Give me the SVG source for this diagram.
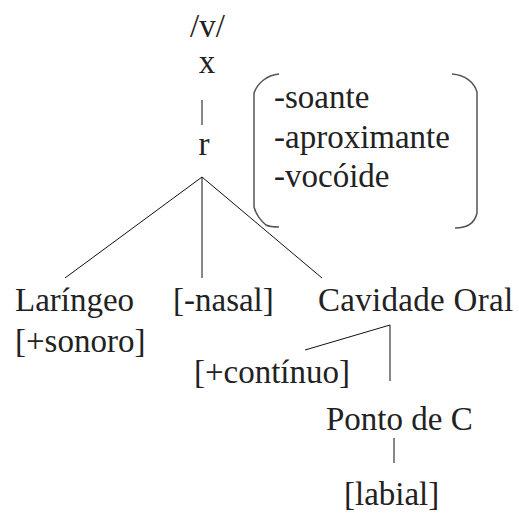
<svg xmlns="http://www.w3.org/2000/svg" width="519" height="514" viewBox="0 0 519 514">
<style>
text{font-family:"Liberation Serif","Times New Roman",serif;font-size:33px;fill:#222}
.ln{stroke:#111;stroke-width:1;fill:none}
.br{stroke:#555;stroke-width:1.5;fill:none}
</style>
<rect width="519" height="514" fill="#fff"/>
<g id="connectors">
<line class="ln" x1="202" y1="100" x2="202" y2="125"/>
<line class="ln" x1="202" y1="177" x2="65" y2="278"/>
<line class="ln" x1="202" y1="177" x2="202" y2="278"/>
<line class="ln" x1="202" y1="177" x2="322" y2="278"/>
<line class="ln" x1="390" y1="325" x2="305" y2="350"/>
<line class="ln" x1="390" y1="325" x2="390" y2="381"/>
<line class="ln" x1="394" y1="438" x2="394" y2="463"/>
</g>
<g id="v"><text x="190" y="37">/v/</text></g>
<g id="x"><text x="207" y="73" text-anchor="middle">x</text></g>
<g id="r"><text x="204" y="155" text-anchor="middle">r</text></g>
<g id="features">
<path class="br" d="M279,74 C268,75 258,82 254,93 L254,207 C256,215 262,222 266,225 C270,227 275,227 279,227"/>
<path class="br" d="M452,74 C465,75 474,82 477,92 L477,213 C475,222 468,228 455,228"/>
<text x="274" y="108">-soante</text>
<text x="274" y="148">-aproximante</text>
<text x="274" y="187">-vocóide</text>
</g>
<g id="laringeo"><text x="15" y="311">Laríngeo</text><text x="15" y="352">[+sonoro]</text></g>
<g id="nasal"><text x="173" y="311">[-nasal]</text></g>
<g id="cavidade"><text x="318" y="311" letter-spacing="0.3">Cavidade Oral</text></g>
<g id="continuo"><text x="350" y="383" text-anchor="end">[+contínuo]</text></g>
<g id="ponto"><text x="326" y="430">Ponto de C</text></g>
<g id="labial"><text x="344" y="505">[labial]</text></g>
</svg>
